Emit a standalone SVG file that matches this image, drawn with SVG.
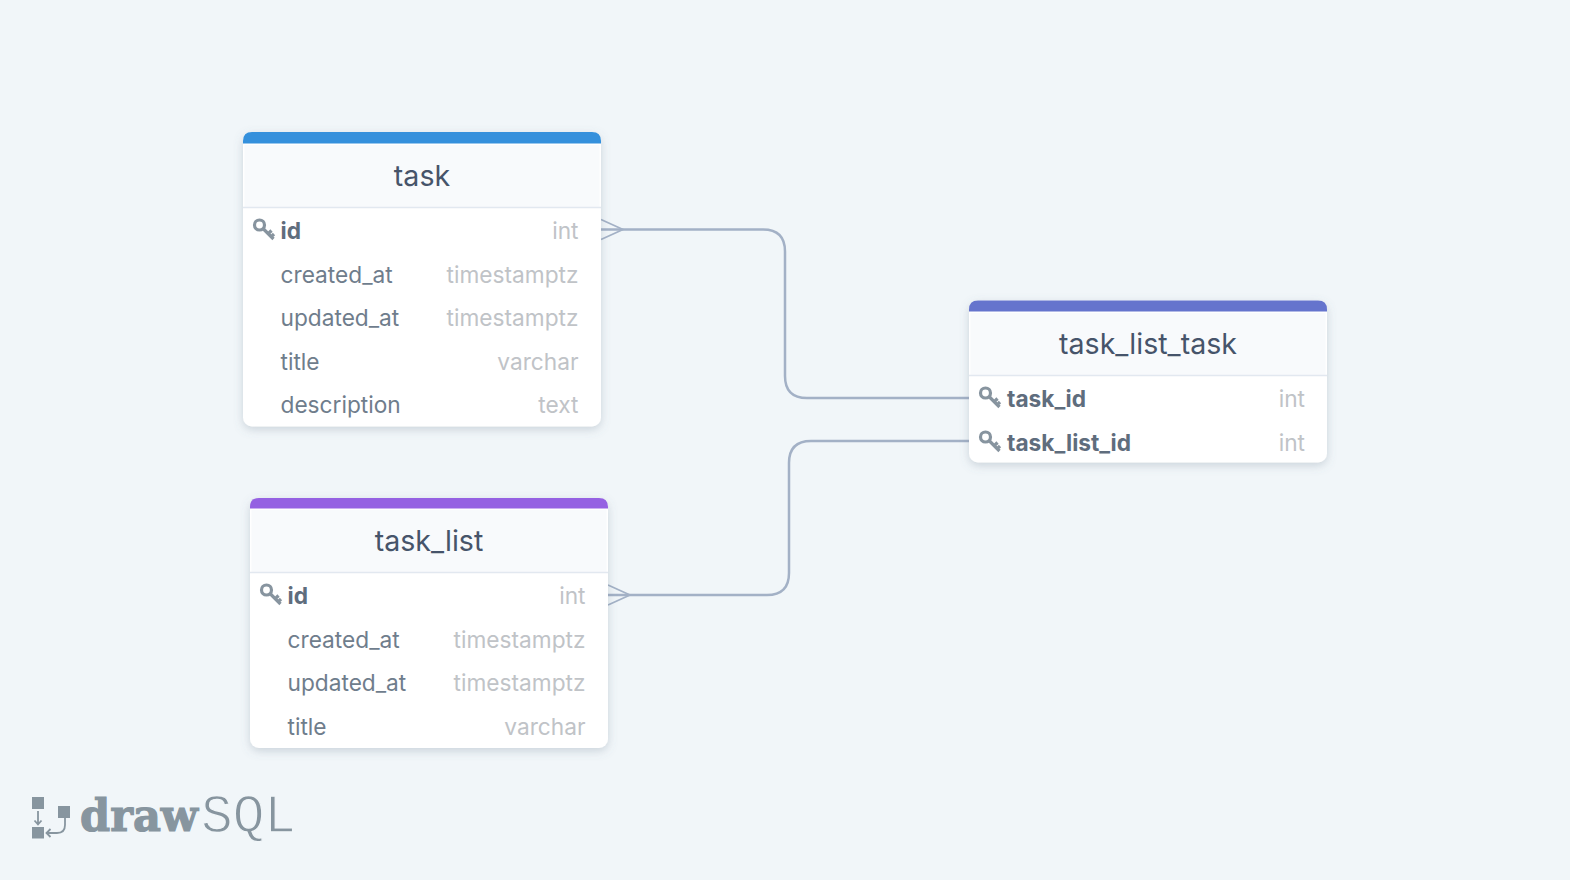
<svg xmlns="http://www.w3.org/2000/svg" width="1570" height="880" viewBox="0 0 1570 880">
<style>
text{font-family:Inter,"Liberation Sans",sans-serif}
.body{fill:#fff;filter:url(#sh)}
.head{fill:#f8fafc}
.sep{stroke:#e2e8f0;stroke-width:1.5;fill:none}
.title{font-size:28.6px;fill:#46546a;text-anchor:middle}
.f{font-size:22.7px;fill:#6f7d8c}
.k{font-size:22.7px;fill:#5f6d7d;font-weight:700}
.t{font-size:22.7px;fill:#c0c3c7;text-anchor:end}
.c{fill:none;stroke:#a3b1c6;stroke-width:2.5}
.c2{fill:none;stroke:#a3b1c6;stroke-width:1.7}
.key{fill:none;stroke:#87949f;stroke-width:3.200}
.logo{fill:#87959f}
</style>
<defs>
<filter id="sh" x="-10%" y="-10%" width="120%" height="125%"><feDropShadow dx="0" dy="3" stdDeviation="5" flood-color="#64748b" flood-opacity="0.28"/></filter>
<g id="key"><circle cx="-4.500" cy="-5" r="5" class="key"/><path d="M-1 -1.500 L9.500 9 M4.500 3.500 L7.500 0.500 M7.500 6.500 L10 4" class="key"/></g>
</defs>
<rect width="1570" height="880" fill="#f1f6f9"/>
<g id="connectors">
<path class="c" d="M601 229.500H763Q785 229.500 785 251.500V376Q785 398 807 398H969"/>
<path class="c2" d="M601 219.500L623 229.500L601 239.500"/>
<path class="c" d="M608 595H767Q789 595 789 573V463Q789 441 811 441H969"/>
<path class="c2" d="M608 585L630 595L608 605"/>
</g>
<g id="task">
<rect class="body" x="243" y="132" width="358" height="294.500" rx="9"/>
<path d="M243 143.500V141Q243 132 252 132H592Q601 132 601 141V143.500Z" fill="#3490dc"/>
<rect class="head" x="244.500" y="145" width="355" height="62"/>
<path class="sep" d="M243 207.500H601"/>
<text class="title" x="422" y="185.500">task</text>
<use href="#key" x="264" y="230"/>
<text class="k" x="280.500" y="238.500">id</text><text class="t" x="578.500" y="238.500">int</text>
<text class="f" x="280.500" y="282.500">created_at</text><text class="t" x="578.500" y="282.500">timestamptz</text>
<text class="f" x="280.500" y="325.500">updated_at</text><text class="t" x="578.500" y="325.500">timestamptz</text>
<text class="f" x="280.500" y="369.500">title</text><text class="t" x="578.500" y="369.500">varchar</text>
<text class="f" x="280.500" y="412.500">description</text><text class="t" x="578.500" y="412.500">text</text>
</g>
<g id="task_list">
<rect class="body" x="250" y="498" width="358" height="250" rx="9"/>
<path d="M250 508.500V507Q250 498 259 498H599Q608 498 608 507V508.500Z" fill="#9561e2"/>
<rect class="head" x="251.500" y="510" width="355" height="62"/>
<path class="sep" d="M250 572.500H608"/>
<text class="title" x="429" y="551">task_list</text>
<use href="#key" x="271" y="595"/>
<text class="k" x="287.500" y="603.500">id</text><text class="t" x="585.500" y="603.500">int</text>
<text class="f" x="287.500" y="647.500">created_at</text><text class="t" x="585.500" y="647.500">timestamptz</text>
<text class="f" x="287.500" y="691">updated_at</text><text class="t" x="585.500" y="691">timestamptz</text>
<text class="f" x="287.500" y="734.500">title</text><text class="t" x="585.500" y="734.500">varchar</text>
</g>
<g id="task_list_task">
<rect class="body" x="969" y="300.500" width="358" height="162" rx="9"/>
<path d="M969 311.500V309.500Q969 300.500 978 300.500H1318Q1327 300.500 1327 309.500V311.500Z" fill="#6574cd"/>
<rect class="head" x="970.500" y="313" width="355" height="62"/>
<path class="sep" d="M969 375.500H1327"/>
<text class="title" x="1148" y="353.500">task_list_task</text>
<use href="#key" x="990" y="398"/>
<text class="k" x="1007" y="406.500">task_id</text><text class="t" x="1305" y="406.500">int</text>
<use href="#key" x="990" y="442"/>
<text class="k" x="1007" y="450.500">task_list_id</text><text class="t" x="1305" y="450.500">int</text>
</g>
<g id="logo">
<rect class="logo" x="32" y="797" width="12" height="12"/>
<rect class="logo" x="32" y="827" width="12" height="11.500"/>
<rect class="logo" x="58" y="806" width="12" height="12"/>
<path d="M38 811V824M34.500 820.500L38 824.500L41.500 820.500M65 818V825Q65 833 57 833H47M50.500 829L46.500 833L50.500 837" fill="none" stroke="#87959f" stroke-width="1.800"/>
<text x="80" y="830.500" style="font-family:'DejaVu Serif',serif;font-weight:700;font-size:44px" fill="#87959f" stroke="#87959f" stroke-width="1.200" textLength="118" lengthAdjust="spacingAndGlyphs">draw</text>
<text x="201" y="832" style="font-family:'Liberation Mono',monospace;font-size:54px" fill="#87959f" stroke="#f1f6f9" stroke-width="1.300" textLength="95" lengthAdjust="spacingAndGlyphs">SQL</text>
</g>
</svg>
